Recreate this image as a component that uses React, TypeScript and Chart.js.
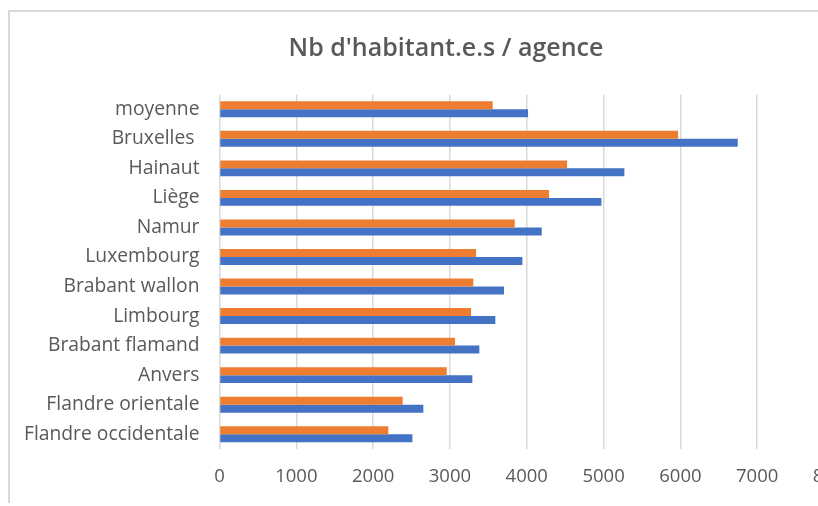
import React, { useEffect, useRef } from "react";
import { Chart, registerables } from "chart.js";

Chart.register(...registerables);

const categories = [
  "moyenne",
  "Bruxelles ",
  "Hainaut",
  "Liège",
  "Namur",
  "Luxembourg",
  "Brabant wallon",
  "Limbourg",
  "Brabant flamand",
  "Anvers",
  "Flandre orientale",
  "Flandre occidentale",
];

const orangeValues = [3557, 5970, 4525, 4290, 3844, 3340, 3305, 3275, 3066, 2958, 2385, 2198];
const blueValues = [4017, 6747, 5271, 4972, 4195, 3943, 3704, 3591, 3383, 3292, 2654, 2511];

const xMin = 0;
const xMax = 8000;
const xStep = 1000;

const titleText = "Nb d'habitant.e.s / agence";

const FONT = "'Open Sans', 'Noto Sans', sans-serif";
const TEXT = "#595959";

export default function App() {
  const ref = useRef<HTMLCanvasElement | null>(null);

  useEffect(() => {
    if (!ref.current) return;
    const chart = new Chart(ref.current, {
      type: "bar",
      data: {
        labels: categories,
        datasets: [
          {
            label: "Série 2",
            data: orangeValues,
            backgroundColor: "#ED7D31",
            borderWidth: 0,
            categoryPercentage: 0.54,
            barPercentage: 1,
          },
          {
            label: "Série 1",
            data: blueValues,
            backgroundColor: "#4472C4",
            borderWidth: 0,
            categoryPercentage: 0.54,
            barPercentage: 1,
          },
        ],
      },
      options: {
        indexAxis: "y",
        responsive: false,
        animation: false,
        devicePixelRatio: 1,
        layout: { padding: { left: 0, right: 0, top: 0, bottom: 4 } },
        plugins: {
          legend: { display: false },
          tooltip: { enabled: false },
          title: {
            display: true,
            text: titleText,
            color: TEXT,
            font: { family: FONT, size: 25, weight: "600" },
            padding: { top: 22, bottom: 30.5 },
          },
        },
        scales: {
          x: {
            min: xMin,
            max: xMax,
            ticks: {
              stepSize: xStep,
              color: TEXT,
              font: { family: FONT, size: 18.5 },
              padding: 16.5,
              maxRotation: 0,
              callback: (v: any) => String(v),
            },
            grid: { color: "#d9d9d9", lineWidth: 1.5, drawTicks: false },
            border: { display: false },
            afterFit: (scale: any) => {
              scale.height = 50;
            },
          },
          y: {
            ticks: {
              color: TEXT,
              font: { family: FONT, size: 19.3 },
              padding: 20,
            },
            grid: { display: false, drawTicks: false },
            border: { display: false },
            afterFit: (scale: any) => {
              scale.width = 209.5;
            },
          },
          yRight: {
            type: "linear",
            axis: "y",
            position: "right",
            display: true,
            ticks: { display: false },
            grid: { display: false, drawTicks: false },
            border: { display: false },
            afterFit: (scale: any) => {
              scale.width = 48;
            },
          },
        },
      },
    });
    return () => chart.destroy();
  }, []);

  return (
    <div
      style={{
        position: "fixed",
        left: 0,
        top: 0,
        width: 818,
        height: 506,
        overflow: "hidden",
        background: "#ffffff",
      }}
    >
      <div
        style={{
          position: "absolute",
          left: 8,
          top: 10,
          width: 876,
          height: 493,
          boxSizing: "border-box",
          borderLeft: "2px solid #d9d9d9",
          borderTop: "2px solid #d9d9d9",
          background: "#ffffff",
        }}
      >
        <canvas
          ref={ref}
          width={872}
          height={491}
          style={{ display: "block", width: 872, height: 491 }}
        />
      </div>
    </div>
  );
}
